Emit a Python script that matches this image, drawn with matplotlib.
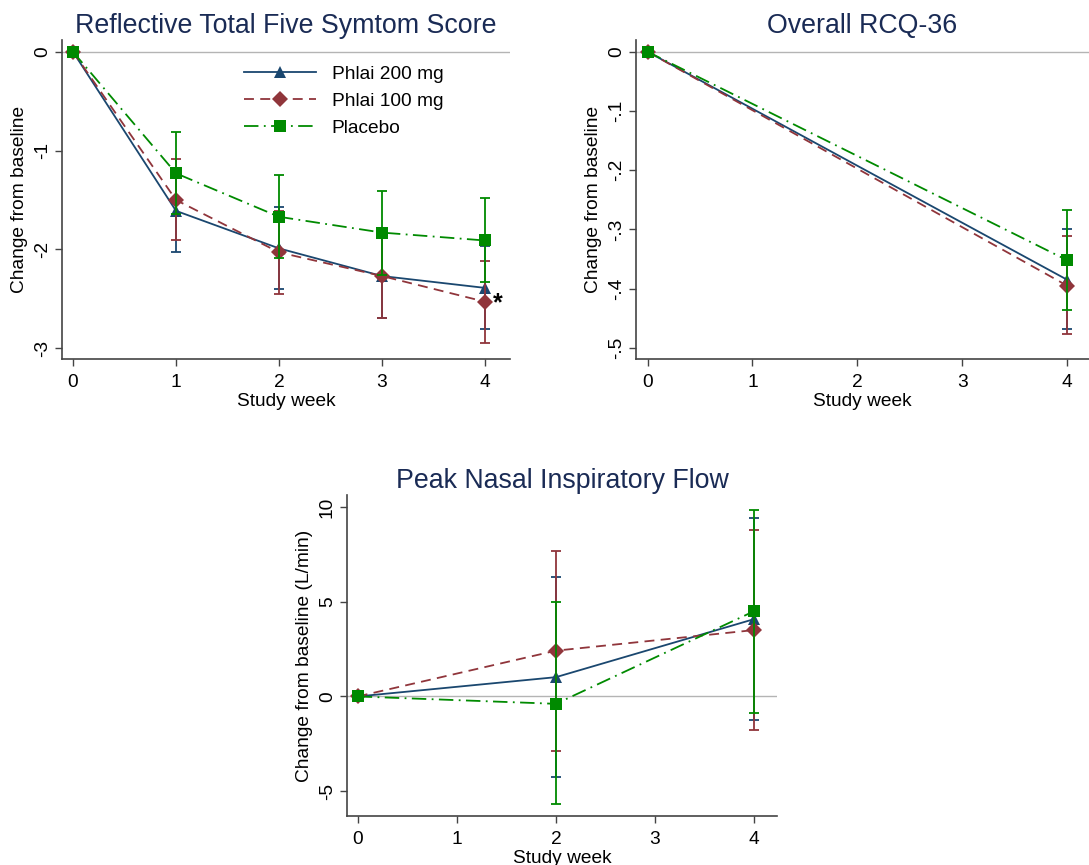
import matplotlib
matplotlib.use("Agg")
from matplotlib import pyplot as plt
import numpy as np

plt.rcParams["font.family"] = ["Liberation Sans", "DejaVu Sans"]

# series names
names = ["Phlai 200 mg", "Phlai 100 mg", "Placebo"]

# Reflective Total Five Symptom Score
weeks_tss = [0, 1, 2, 3, 4]
tss_200 = [0, -1.61, -1.99, -2.27, -2.39]
tss_200_lo = [0, -2.03, -2.40, -2.69, -2.81]
tss_200_hi = [0, -1.19, -1.57, -1.85, -1.97]
tss_100 = [0, -1.50, -2.03, -2.27, -2.53]
tss_100_lo = [0, -1.91, -2.45, -2.69, -2.95]
tss_100_hi = [0, -1.08, -1.61, -1.85, -2.12]
tss_pl = [0, -1.23, -1.67, -1.83, -1.91]
tss_pl_lo = [0, -1.64, -2.09, -2.26, -2.33]
tss_pl_hi = [0, -0.81, -1.25, -1.41, -1.48]

# Overall RCQ-36
weeks_rcq = [0, 4]
rcq_200 = [0, -0.385]
rcq_200_lo = [0, -0.469]
rcq_200_hi = [0, -0.299]
rcq_100 = [0, -0.395]
rcq_100_lo = [0, -0.477]
rcq_100_hi = [0, -0.311]
rcq_pl = [0, -0.352]
rcq_pl_lo = [0, -0.436]
rcq_pl_hi = [0, -0.267]

# Peak Nasal Inspiratory Flow
weeks_pnif = [0, 2, 4]
pnif_200 = [0, 1.02, 4.09]
pnif_200_lo = [0, -4.27, -1.22]
pnif_200_hi = [0, 6.31, 9.42]
pnif_100 = [0, 2.42, 3.51]
pnif_100_lo = [0, -2.87, -1.78]
pnif_100_hi = [0, 7.69, 8.80]
pnif_pl = [0, -0.39, 4.51]
pnif_pl_lo = [0, -5.66, -0.85]
pnif_pl_hi = [0, 4.99, 9.86]

# tick labels (Stata style)
xticks = [0, 1, 2, 3, 4]
tss_yticks = [0, -1, -2, -3]
tss_ylabels = ["0", "-1", "-2", "-3"]
rcq_yticks = [0, -0.1, -0.2, -0.3, -0.4, -0.5]
rcq_ylabels = ["0", "-.1", "-.2", "-.3", "-.4", "-.5"]
pnif_yticks = [10, 5, 0, -5]
pnif_ylabels = ["10", "5", "0", "-5"]

colors = ["#1a476f", "#90353b", "#008a00"]
markers = ["^", "D", "s"]
msizes = [9, 8, 8.5]
dashes = [None, (5.5, 3.5), (8, 3, 1, 3)]
title_color = "#1a2b55"
spine_color = "#444444"
fs = 13.8


def drawPanel(ax, weeks, series, title, yticks, ylabels, ylabel, xlim, ylim):
    ax.axhline(0, color="#b4b4b4", lw=1.0, zorder=0)
    handles = []
    for i, (m, lo, hi) in enumerate(series):
        m = np.array(m)
        lo = np.array(lo)
        hi = np.array(hi)
        w = np.array(weeks)
        sel = w > 0
        ax.errorbar(w[sel], m[sel], yerr=[m[sel] - lo[sel], hi[sel] - m[sel]],
                    fmt="none", ecolor=colors[i], elinewidth=1.3, capsize=3.8,
                    capthick=1.3, zorder=2 + i)
        line, = ax.plot(w, m, color=colors[i], lw=1.3, marker=markers[i],
                        markersize=msizes[i], markeredgewidth=0, zorder=2.5 + i,
                        label=names[i])
        if dashes[i] is not None:
            line.set_dashes(dashes[i])
        handles.append(line)
    ax.set_xlim(*xlim)
    ax.set_ylim(*ylim)
    ax.set_xticks(xticks)
    ax.set_xticklabels([str(t) for t in xticks])
    ax.set_yticks(yticks)
    ax.set_yticklabels(ylabels, rotation=90, va="center")
    ax.tick_params(labelsize=fs, length=5, width=1, color=spine_color)
    ax.tick_params(axis="x", pad=6)
    ax.tick_params(axis="y", pad=3)
    for s in ["top", "right"]:
        ax.spines[s].set_visible(False)
    for s in ["left", "bottom"]:
        ax.spines[s].set_color(spine_color)
        ax.spines[s].set_linewidth(1.2)
    ax.set_xlabel("Study week", fontsize=fs, labelpad=1)
    ax.set_ylabel(ylabel, fontsize=fs, labelpad=4)
    ax.set_title(title, fontsize=19.3, color=title_color, pad=5)
    return handles


fig = plt.figure(figsize=(10.89, 8.65), dpi=100)

W, H = 1089.0, 865.0
ax1 = fig.add_axes([62 / W, 1 - 359 / H, 448 / W, 319 / H])
ax2 = fig.add_axes([636 / W, 1 - 359 / H, 453 / W, 319 / H])
ax3 = fig.add_axes([347 / W, 1 - 816 / H, 430 / W, 321 / H])

h = drawPanel(ax1, weeks_tss,
              [(tss_200, tss_200_lo, tss_200_hi),
               (tss_100, tss_100_lo, tss_100_hi),
               (tss_pl, tss_pl_lo, tss_pl_hi)],
              "Reflective Total Five Symtom Score", tss_yticks, tss_ylabels,
              "Change from baseline", (-0.107, 4.243), (-3.11, 0.12))
ax1.text(4.08, tss_100[-1] - 0.02, "*", fontsize=18, fontweight="bold",
         ha="left", va="center")
ax1.legend(handles=h, loc="upper left", bbox_to_anchor=(0.39, 0.945),
           frameon=False, fontsize=fs, handlelength=3.75, handletextpad=0.8,
           labelspacing=0.5, borderaxespad=0)

drawPanel(ax2, weeks_rcq,
          [(rcq_200, rcq_200_lo, rcq_200_hi),
           (rcq_100, rcq_100_lo, rcq_100_hi),
           (rcq_pl, rcq_pl_lo, rcq_pl_hi)],
          "Overall RCQ-36", rcq_yticks, rcq_ylabels,
          "Change from baseline", (-0.11, 4.21), (-0.519, 0.0198))

drawPanel(ax3, weeks_pnif,
          [(pnif_200, pnif_200_lo, pnif_200_hi),
           (pnif_100, pnif_100_lo, pnif_100_hi),
           (pnif_pl, pnif_pl_lo, pnif_pl_hi)],
          "Peak Nasal Inspiratory Flow", pnif_yticks, pnif_ylabels,
          "Change from baseline (L/min)", (-0.108, 4.23), (-6.32, 10.65))

fig.savefig("out.png", dpi=100)
